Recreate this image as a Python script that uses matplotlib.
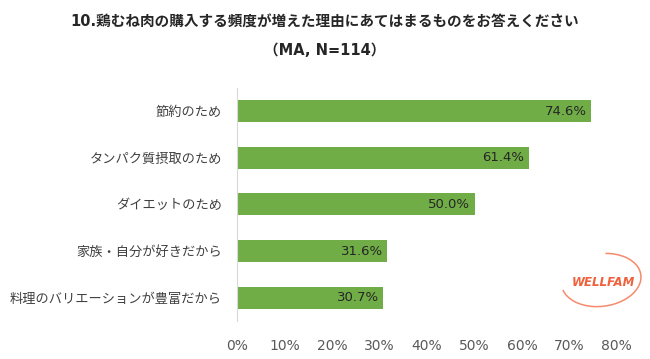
import numpy as np
import matplotlib.pyplot as plt
from matplotlib.patches import Arc

plt.rcParams['font.family'] = ['Noto Sans CJK JP', 'DejaVu Sans']

categories = ['節約のため', 'タンパク質摂取のため', 'ダイエットのため', '家族・自分が好きだから', '料理のバリエーションが豊富だから']
values = [74.6, 61.4, 50.0, 31.6, 30.7]
ticks = [0, 10, 20, 30, 40, 50, 60, 70, 80]
tick_labels = ['%d%%' % t for t in ticks]

fig = plt.figure(figsize=(6.5, 3.59), dpi=100)
ax = fig.add_axes([0.365, 0.106, 0.584, 0.649])

y = np.arange(len(categories))
ax.barh(y, values, height=0.47, color='#70AD47')
for i, v in enumerate(values):
    ax.text(v - 0.9, i, '%.1f%%' % v, ha='right', va='center', fontsize=9.5,
            color='#262626', family='DejaVu Sans')

ax.set_ylim(len(categories) - 0.5, -0.5)
ax.set_xlim(0, 80)
ax.set_yticks(y)
ax.set_yticklabels(categories, fontsize=9.5, color='#404040')
ax.set_xticks(ticks)
ax.set_xticklabels(tick_labels, fontsize=10, color='#595959', family='DejaVu Sans')
ax.tick_params(axis='both', length=0)
ax.tick_params(axis='x', pad=13)
ax.tick_params(axis='y', pad=11)
for s in ['top', 'right', 'bottom']:
    ax.spines[s].set_visible(False)
ax.spines['left'].set_color('#d9d9d9')

fig.text(0.5, 0.938, '10.鶏むね肉の購入する頻度が増えた理由にあてはまるものをお答えください',
         ha='center', va='center', fontsize=10.5, fontweight='bold', color='#262626',
         family=['DejaVu Sans', 'Noto Sans CJK JP'])
fig.text(0.5, 0.86, '（MA, N=114）', ha='center', va='center',
         fontsize=10.5, fontweight='bold', color='#262626',
         family=['DejaVu Sans', 'Noto Sans CJK JP'])

# logo
fig.text(0.929, 0.212, 'WELLFAM', ha='center', va='center', fontsize=8.5,
         fontstyle='italic', fontweight='bold', color='#f0603a', family='DejaVu Sans')
arc = Arc((0.925, 0.22), 0.12, 0.15, angle=-15, theta1=-140, theta2=100,
          transform=fig.transFigure, color='#f58a6c', lw=1.1)
fig.add_artist(arc)

plt.savefig('out.png')
